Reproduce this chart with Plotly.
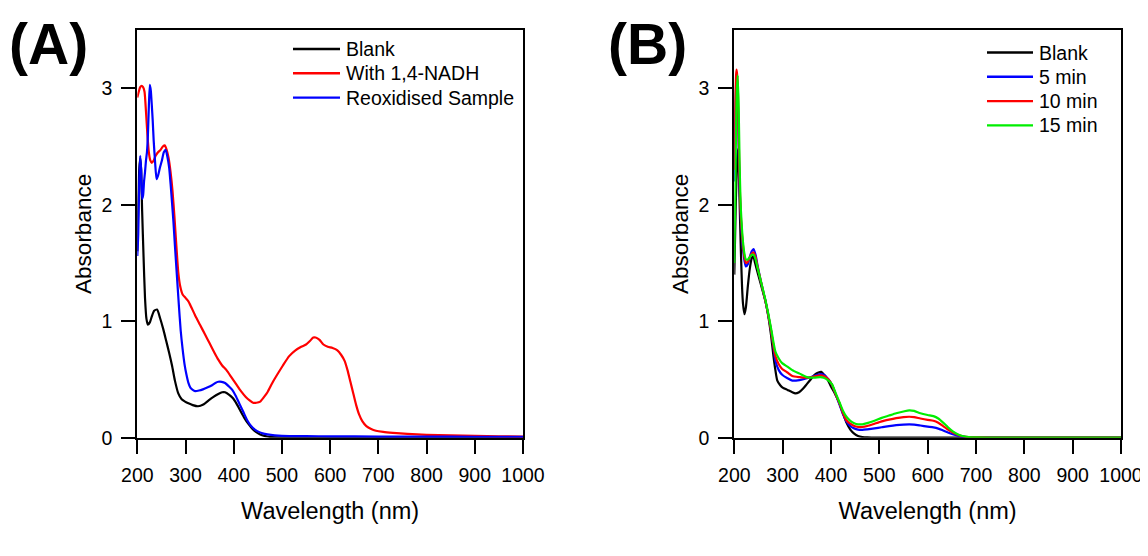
import plotly.graph_objects as go

# ---------------- Panel A data ----------------
names_A = ["Blank", "With 1,4-NADH", "Reoxidised Sample"]
colors_A = ["#000000", "#ff0000", "#0000ff"]

wl_A_blank = [200, 202, 204, 206, 208, 210, 213, 216, 219, 222, 226, 230, 235, 241, 247, 254, 260,
              266, 272, 278, 285, 292, 299, 306, 315, 326, 337, 348, 358, 368, 376, 382, 390, 398,
              406, 414, 422, 430, 438, 446, 454, 462, 470, 480, 500, 600, 700, 800, 900, 1000]
abs_A_blank = [1.6, 2.0, 2.3, 2.4, 2.3, 1.95, 1.55, 1.2, 1.02, 0.97, 0.99, 1.04, 1.09, 1.10, 1.03, 0.93, 0.83,
               0.73, 0.62, 0.49, 0.38, 0.33, 0.31, 0.295, 0.28, 0.27, 0.285, 0.32, 0.35, 0.375, 0.39, 0.39, 0.37, 0.34,
               0.29, 0.23, 0.17, 0.12, 0.08, 0.05, 0.03, 0.018, 0.01, 0.005, 0.003, 0.002, 0.002, 0.002, 0.002, 0.002]

wl_A_nadh = [200, 203, 206, 209, 212, 215, 218, 221, 224, 227, 230, 234, 238, 243, 248, 253, 257, 261, 265,
             269, 273, 277, 281, 285, 289, 294, 300, 306, 312, 320, 330, 340, 350, 360, 368, 376, 385, 395,
             405, 415, 425, 433, 440, 447, 455, 463, 470, 480, 490, 502, 515, 528, 540, 550, 558, 565, 570,
             578, 586, 595, 605, 615, 623, 630, 636, 642, 648, 654, 660, 667, 675, 685, 695, 710, 730, 760,
             800, 850, 900, 950, 1000]
abs_A_nadh = [2.92, 2.97, 3.01, 3.02, 3.01, 2.97, 2.8, 2.6, 2.45, 2.38, 2.36, 2.38, 2.42, 2.45, 2.47, 2.5, 2.51, 2.47, 2.4,
              2.28, 2.12, 1.9, 1.65, 1.42, 1.3, 1.23, 1.2, 1.17, 1.12, 1.05, 0.97, 0.89, 0.81, 0.73, 0.67, 0.62, 0.58, 0.52,
              0.46, 0.40, 0.35, 0.32, 0.30, 0.30, 0.31, 0.35, 0.39, 0.47, 0.54, 0.62, 0.70, 0.75, 0.78, 0.80, 0.83, 0.86, 0.86,
              0.84, 0.80, 0.78, 0.77, 0.75, 0.71, 0.66, 0.58, 0.48, 0.38, 0.28, 0.2, 0.14, 0.1, 0.075, 0.06, 0.05, 0.042, 0.033,
              0.025, 0.02, 0.016, 0.012, 0.01]

wl_A_reox = [200, 202, 204, 206, 208, 210, 212, 214, 216, 218, 220, 222, 224, 226, 228, 230, 232, 234, 237,
             240, 243, 247, 251, 255, 259, 262, 266, 269, 272, 275, 278, 282, 286, 290, 294, 298, 302, 306,
             310, 315, 320, 328, 336, 345, 355, 362, 368, 375, 382, 390, 397, 404, 412, 420, 428, 436, 444,
             452, 460, 470, 485, 500, 550, 600, 700, 800, 900, 1000]
abs_A_reox = [1.56, 1.75, 2.2, 2.42, 2.3, 2.05, 2.08, 2.2, 2.28, 2.38, 2.45, 2.6, 2.85, 3.03, 2.98, 2.86, 2.72, 2.55, 2.36,
              2.22, 2.25, 2.32, 2.38, 2.45, 2.47, 2.42, 2.32, 2.18, 2.02, 1.85, 1.65, 1.4, 1.15, 0.92, 0.76, 0.63, 0.54, 0.47,
              0.43, 0.41, 0.40, 0.405, 0.415, 0.43, 0.45, 0.47, 0.48, 0.48, 0.47, 0.44, 0.41, 0.36, 0.29, 0.22, 0.15, 0.1, 0.07,
              0.05, 0.037, 0.028, 0.02, 0.016, 0.013, 0.012, 0.01, 0.009, 0.008, 0.008]

# ---------------- Panel B data ----------------
names_B = ["Blank", "5 min", "10 min", "15 min"]
colors_B = ["#000000", "#0000ff", "#ff0000", "#00ee00"]

wl_B_blank = [200, 203, 206, 208, 210, 212, 214, 216, 218, 221, 224, 228, 232, 236, 239, 243, 248, 254, 260,
              264, 270, 276, 281, 285, 289, 295, 300, 310, 320, 326, 334, 342, 350, 358, 366, 374, 380, 386,
              393, 400, 408, 416, 424, 432, 440, 448, 456, 465, 475, 500, 600, 700, 800, 900, 1000]
abs_B_blank = [1.4, 2.0, 2.4, 2.48, 2.2, 1.85, 1.55, 1.3, 1.15, 1.06, 1.12, 1.3, 1.45, 1.54, 1.56, 1.5, 1.42, 1.33, 1.24,
               1.18, 1.05, 0.88, 0.70, 0.58, 0.49, 0.45, 0.43, 0.41, 0.39, 0.38, 0.39, 0.42, 0.46, 0.5, 0.54, 0.56, 0.565, 0.54,
               0.5, 0.44, 0.38, 0.31, 0.22, 0.13, 0.07, 0.035, 0.015, 0.006, 0.002, 0.0, 0.0, 0.0, 0.0, 0.0, 0.0]

wl_B_t = [200, 202, 204, 205, 207, 209, 211, 213, 215, 218, 221, 224, 228, 232, 236, 240, 244, 248, 254,
          260, 264, 270, 276, 281, 285, 292, 299, 310, 320, 335, 350, 365, 378, 385, 395, 402, 410, 418,
          425, 432, 440, 448, 456, 465, 475, 490, 505, 520, 535, 550, 562, 572, 585, 600, 612, 622, 632,
          642, 652, 662, 672, 685, 700, 750, 850, 1000]
abs_B_5 = [2.2, 2.8, 3.05, 3.08, 2.95, 2.5, 2.15, 1.93, 1.78, 1.62, 1.52, 1.47, 1.49, 1.55, 1.6, 1.62, 1.57, 1.48, 1.36,
           1.25, 1.18, 1.06, 0.92, 0.78, 0.66, 0.58, 0.54, 0.51, 0.49, 0.495, 0.51, 0.53, 0.545, 0.54, 0.50, 0.455, 0.37, 0.28,
           0.20, 0.14, 0.10, 0.08, 0.07, 0.068, 0.072, 0.08, 0.09, 0.10, 0.108, 0.113, 0.115, 0.113, 0.105, 0.095, 0.088, 0.078, 0.062,
           0.045, 0.03, 0.018, 0.009, 0.004, 0.001, 0.0, 0.0, 0.0]
abs_B_10 = [2.3, 2.9, 3.13, 3.16, 3.05, 2.6, 2.2, 1.95, 1.8, 1.65, 1.55, 1.5, 1.51, 1.55, 1.58, 1.59, 1.55, 1.47, 1.36,
            1.25, 1.18, 1.06, 0.92, 0.79, 0.70, 0.63, 0.59, 0.56, 0.53, 0.52, 0.515, 0.525, 0.535, 0.53, 0.50, 0.455, 0.37, 0.29,
            0.21, 0.15, 0.12, 0.10, 0.092, 0.092, 0.10, 0.12, 0.14, 0.155, 0.168, 0.177, 0.18, 0.177, 0.165, 0.153, 0.145, 0.128, 0.10,
            0.07, 0.045, 0.025, 0.012, 0.005, 0.002, 0.0, 0.0, 0.0]
abs_B_15 = [1.5, 2.1, 2.75, 2.95, 3.11, 2.85, 2.35, 2.02, 1.85, 1.68, 1.58, 1.53, 1.53, 1.55, 1.57, 1.57, 1.53, 1.46, 1.36,
            1.26, 1.19, 1.07, 0.94, 0.82, 0.74, 0.68, 0.64, 0.61, 0.58, 0.55, 0.52, 0.515, 0.52, 0.515, 0.49, 0.46, 0.38, 0.30,
            0.23, 0.18, 0.145, 0.125, 0.115, 0.115, 0.125, 0.145, 0.17, 0.19, 0.21, 0.225, 0.235, 0.23, 0.21, 0.195, 0.185, 0.165, 0.13,
            0.09, 0.055, 0.03, 0.015, 0.006, 0.002, 0.0, 0.0, 0.0]

x_ticks = [200, 300, 400, 500, 600, 700, 800, 900, 1000]
y_ticks = [0, 1, 2, 3]

FONT = "Liberation Sans, Arial, sans-serif"
OFF = 8                      # the page body adds an 8 px margin around the figure
W, H = 1148 - OFF, 556 - OFF


def px(x):
    return (x - OFF) / W


def py(y):
    return 1 - (y - OFF) / H


fig = go.Figure()

series_A = [(wl_A_blank, abs_A_blank), (wl_A_nadh, abs_A_nadh), (wl_A_reox, abs_A_reox)]
for (x, y), n, c in zip(series_A, names_A, colors_A):
    fig.add_trace(go.Scatter(x=x, y=y, name=n, mode="lines", showlegend=False,
                             line=dict(color=c, width=2.2, shape="spline", smoothing=0.6),
                             xaxis="x", yaxis="y"))

series_B = [(wl_B_blank, abs_B_blank), (wl_B_t, abs_B_5), (wl_B_t, abs_B_10), (wl_B_t, abs_B_15)]
for (x, y), n, c in zip(series_B, names_B, colors_B):
    fig.add_trace(go.Scatter(x=x, y=y, name=n, mode="lines", showlegend=False,
                             line=dict(color=c, width=2.2, shape="spline", smoothing=0.6),
                             xaxis="x2", yaxis="y2"))

# legend keys (line sample + label) built from the series names / colours
shapes, annotations = [], []


def add_key(names, colors, x0, x1, y_first, step):
    for i, (n, c) in enumerate(zip(names, colors)):
        yy = py(y_first + i * step)
        shapes.append(dict(type="line", xref="paper", yref="paper", x0=px(x0), x1=px(x1), y0=yy, y1=yy,
                           line=dict(color=c, width=2.4)))
        annotations.append(dict(text=n, xref="paper", yref="paper", x=px(x1 + 4), y=yy, xanchor="left",
                                yanchor="middle", showarrow=False,
                                font=dict(family=FONT, size=19.5, color="black")))


add_key(names_A, colors_A, 293, 340, 49, 24.3)
add_key(names_B, colors_B, 987, 1033, 52.5, 24.3)

annotations += [
    dict(text="<b>(A)</b>", x=px(7), y=py(44), xref="paper", yref="paper", xanchor="left",
         yanchor="middle", showarrow=False, font=dict(family=FONT, size=57, color="black")),
    dict(text="<b>(B)</b>", x=px(606), y=py(44), xref="paper", yref="paper", xanchor="left",
         yanchor="middle", showarrow=False, font=dict(family=FONT, size=57, color="black")),
]

y_dom = [py(437.7), py(30)]

axis_common = dict(showline=True, linecolor="black", linewidth=2, mirror=True, ticks="outside",
                   ticklen=14, tickwidth=2, tickcolor="black", showgrid=False, zeroline=False,
                   automargin=False,
                   tickfont=dict(family=FONT, size=19.5, color="black"), ticklabelstandoff=5)

xa = dict(axis_common, range=[200, 1000], tickvals=x_ticks,
          title=dict(text="Wavelength (nm)", font=dict(family=FONT, size=23.5, color="black"), standoff=17))
ya = dict(axis_common, range=[0, 3.5], tickvals=y_ticks,
          title=dict(text="Absorbance", font=dict(family=FONT, size=22.5, color="black"), standoff=4))

fig.update_layout(
    width=W, height=H,
    margin=dict(l=0, r=0, t=0, b=0, autoexpand=False),
    paper_bgcolor="white", plot_bgcolor="white",
    font=dict(family=FONT, color="black"),
    showlegend=False,
    xaxis=dict(xa, domain=[px(137.3), px(523)], anchor="y"),
    yaxis=dict(ya, domain=y_dom, anchor="x"),
    xaxis2=dict(xa, domain=[px(734.3), px(1121)], anchor="y2"),
    yaxis2=dict(ya, domain=y_dom, anchor="x2"),
    shapes=shapes,
    annotations=annotations,
)

fig.write_html("out.html")
